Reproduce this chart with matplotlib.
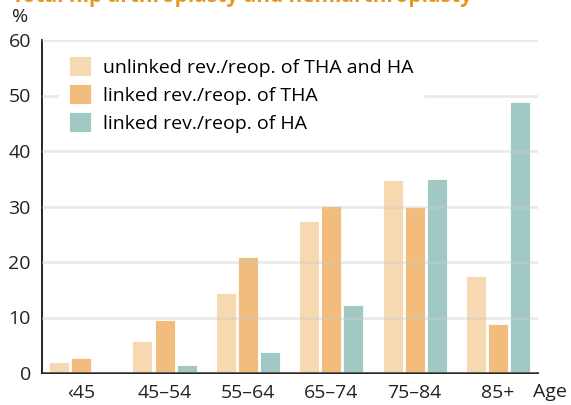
import numpy as np
import matplotlib
matplotlib.use("Agg")
import matplotlib.pyplot as plt

# data (percent)
age_groups = ["‹45", "45–54", "55–64", "65–74", "75–84", "85+"]
unlinked_tha_ha = [2.0, 5.8, 14.5, 27.3, 34.8, 17.4]
linked_tha = [2.7, 9.5, 20.9, 30.1, 29.9, 8.9]
linked_ha = [0.1, 1.4, 3.7, 12.3, 34.9, 48.9]
series_labels = ["unlinked rev./reop. of THA and HA",
                 "linked rev./reop. of THA",
                 "linked rev./reop. of HA"]
y_ticks = [0, 10, 20, 30, 40, 50, 60]

colors = ["#F6D8B1", "#F1BC7C", "#A1C9C4"]

plt.rcParams['font.family'] = ['Open Sans', 'DejaVu Sans']

fig = plt.figure(figsize=(5.71, 4.05), dpi=100)
ax = fig.add_axes([42 / 571, 32 / 405, 496 / 571, 333 / 405])

x = np.arange(len(age_groups))
width = 0.24
step = 0.265
handles = []
for i, vals in enumerate([unlinked_tha_ha, linked_tha, linked_ha]):
    b = ax.bar(x + (i - 1) * step, vals, width, color=colors[i],
               edgecolor="white", linewidth=0.6, zorder=2, label=series_labels[i])
    handles.append(b)

ax.set_xlim(-0.47, 5.48)
ax.set_ylim(0, 60)
ax.set_yticks(y_ticks)
ax.set_xticks(x)
ax.set_xticklabels(age_groups)
ax.tick_params(axis="both", length=0, labelsize=14, colors="#222222")
ax.tick_params(axis="x", pad=8)
ax.tick_params(axis="y", pad=8)

# grid drawn over the bars, faintly
ax.grid(axis="y", color="#cccccc", alpha=0.4, linewidth=2, zorder=3)
ax.set_axisbelow(False)

for side in ["top", "right"]:
    ax.spines[side].set_visible(False)
for side in ["left", "bottom"]:
    ax.spines[side].set_color("black")
    ax.spines[side].set_linewidth(1.2)

leg = ax.legend(handles=handles, loc="upper left", bbox_to_anchor=(0.035, 0.98),
                fontsize=14, frameon=True, fancybox=False, edgecolor="white",
                facecolor="white", framealpha=1, handlelength=1.15, handleheight=1.15,
                handletextpad=0.6, labelspacing=0.4, borderpad=0.5,
                borderaxespad=0.0)
leg.set_zorder(5)

fig.text(20 / 571, 1 - 17 / 405, "%", fontsize=14, ha="center", va="center", color="#222222")
fig.text(550 / 571, 1 - 392 / 405, "Age", fontsize=14, ha="center", va="center", color="#222222")

# title, cut off at the top edge in the original
fig.text(12 / 571, 1 - 2 / 405, "Total hip arthroplasty and hemiarthroplasty",
         fontsize=15, fontweight="bold", color="#E8961E", ha="left", va="baseline")

fig.savefig("out.png", dpi=100)
